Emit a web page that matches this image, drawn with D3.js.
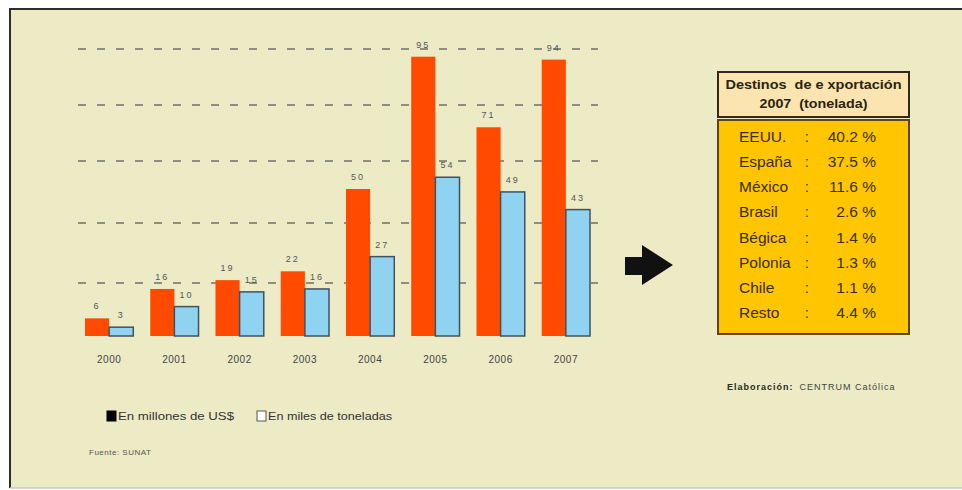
<!DOCTYPE html>
<html>
<head>
<meta charset="utf-8">
<script src="https://cdn.jsdelivr.net/npm/d3@7/dist/d3.min.js"></script>
<style>
  body { margin: 0; background: #fff; }
  svg { display: block; font-family: "Liberation Sans", Arial, sans-serif; }
</style>
</head>
<body>
<svg id="chart" width="962" height="490"></svg>
<script>
const years = ['2000', '2001', '2002', '2003', '2004', '2005', '2006', '2007'];
const valueUSD = [6, 16, 19, 22, 50, 95, 71, 94];     // millones de US$
const valueTons = [3, 10, 15, 16, 27, 54, 49, 43];    // miles de toneladas
const gridValues = [18, 38.5, 59.5, 78.5, 97.5];
const destinations = ['EEUU.', 'España', 'México', 'Brasil', 'Bégica', 'Polonia', 'Chile', 'Resto'];
const shares = ['40.2 %', '37.5 %', '11.6 %', '2.6 %', '1.4 %', '1.3 %', '1.1 %', '4.4 %'];
const seriesNames = ['En millones de US$', 'En miles de toneladas'];

const svg = d3.select('#chart');

// background + frame
svg.append('rect').attr('x', 9).attr('y', 8).attr('width', 953).attr('height', 480).attr('fill', '#ecebc5');
svg.append('path').attr('d', 'M10,488 V9 H962').attr('fill', 'none').attr('stroke', '#2e2e2a').attr('stroke-width', 2);
svg.append('line').attr('x1', 10).attr('x2', 962).attr('y1', 488).attr('y2', 488).attr('stroke', '#c9c9c0').attr('stroke-width', 1.5);

let x = d3.scaleBand().domain(years).range([85, 590]).paddingInner(0.26).paddingOuter(0);
let xs = d3.scaleBand().domain([0, 1]).range([0, x.bandwidth()]);
let y = d3.scaleLinear().domain([0, 100]).range([336, 42]);

// dashed grid
svg.append('g').selectAll('line').data(gridValues).join('line')
  .attr('x1', 78).attr('x2', 598)
  .attr('y1', d => Math.round(y(d))).attr('y2', d => Math.round(y(d)))
  .attr('stroke', '#8f8f7e').attr('stroke-width', 2).attr('stroke-dasharray', '8 11');

let colors = ['#ff4a00', '#8fd3f0'];
let series = [valueUSD, valueTons];

series.forEach((vals, si) => {
  let g = svg.append('g');
  g.selectAll('rect').data(vals).join('rect')
    .attr('x', (d, i) => x(years[i]) + xs(si))
    .attr('y', d => y(d))
    .attr('width', xs.bandwidth())
    .attr('height', d => y(0) - y(d))
    .attr('fill', colors[si])
    .attr('stroke', si === 1 ? '#3f5260' : 'none')
    .attr('stroke-width', 1.5);
  g.selectAll('text').data(vals).join('text')
    .attr('x', (d, i) => x(years[i]) + xs(si) + xs.bandwidth() / 2)
    .attr('y', d => y(d) - 9)
    .attr('text-anchor', 'middle')
    .attr('font-size', 9).attr('letter-spacing', 2)
    .attr('fill', '#555')
    .text(d => d);
});

// year labels
svg.append('g').selectAll('text').data(years).join('text')
  .attr('x', d => x(d) + x.bandwidth() / 2)
  .attr('y', 363)
  .attr('text-anchor', 'middle')
  .attr('font-size', 10).attr('letter-spacing', 0.5)
  .attr('fill', '#444')
  .text(d => d);

// legend
let legend = svg.append('g');
let legendX = [107, 257];
let legendW = [116, 124];
seriesNames.forEach((name, i) => {
  legend.append('rect').attr('x', legendX[i]).attr('y', 411).attr('width', 9).attr('height', 10)
    .attr('fill', i === 0 ? '#000' : '#fff').attr('stroke', i === 0 ? '#000' : '#555').attr('stroke-width', 1);
  legend.append('text').attr('x', legendX[i] + 11).attr('y', 420)
    .attr('font-size', 11).attr('fill', '#333')
    .attr('textLength', legendW[i]).attr('lengthAdjust', 'spacingAndGlyphs')
    .text(name);
});

svg.append('text').attr('x', 89).attr('y', 455).attr('font-size', 8).attr('fill', '#555')
  .attr('letter-spacing', 0.5).text('Fuente:  SUNAT');

// arrow
svg.append('path')
  .attr('d', 'M625,257 H642 V245 L673,265 L642,285 V275 H625 Z')
  .attr('fill', '#111');

// destinations table
let tx = 718, tw = 191;
svg.append('rect').attr('x', tx).attr('y', 72).attr('width', tw).attr('height', 45)
  .attr('fill', '#fbe4b0').attr('stroke', '#2f2a1c').attr('stroke-width', 2);
svg.append('text').attr('x', tx + tw / 2).attr('y', 89).attr('text-anchor', 'middle')
  .attr('font-size', 12).attr('font-weight', 'bold').attr('fill', '#2a2410')
  .attr('xml:space', 'preserve')
  .attr('textLength', 176).attr('lengthAdjust', 'spacingAndGlyphs')
  .text('Destinos  de e xportación');
svg.append('text').attr('x', tx + tw / 2).attr('y', 108).attr('text-anchor', 'middle')
  .attr('font-size', 12).attr('font-weight', 'bold').attr('fill', '#2a2410')
  .attr('xml:space', 'preserve')
  .attr('textLength', 108).attr('lengthAdjust', 'spacingAndGlyphs')
  .text('2007  (tonelada)');

svg.append('rect').attr('x', tx).attr('y', 120).attr('width', tw).attr('height', 214)
  .attr('fill', '#ffc600').attr('stroke', '#5a4616').attr('stroke-width', 2);

let rowY = d3.scalePoint().domain(destinations).range([137, 313]);
let rows = svg.append('g').attr('font-size', 15.5).attr('fill', '#3a2c05');
rows.selectAll('.name').data(destinations).join('text').attr('class', 'name')
  .attr('x', 739).attr('y', d => rowY(d) + 5).text(d => d);
rows.selectAll('.colon').data(destinations).join('text').attr('class', 'colon')
  .attr('x', 807).attr('y', d => rowY(d) + 5).attr('text-anchor', 'middle').text(':');
rows.selectAll('.val').data(shares).join('text').attr('class', 'val')
  .attr('x', 876).attr('y', (d, i) => rowY(destinations[i]) + 5).attr('text-anchor', 'end').text(d => d);

// credit
let credit = svg.append('text').attr('x', 727).attr('y', 390).attr('font-size', 9).attr('fill', '#444')
  .attr('letter-spacing', 1);
credit.append('tspan').attr('font-weight', 'bold').attr('fill', '#2b2b20').text('Elaboración:');
credit.append('tspan').attr('dx', 6).text('CENTRUM  Católica');
</script>
</body>
</html>
